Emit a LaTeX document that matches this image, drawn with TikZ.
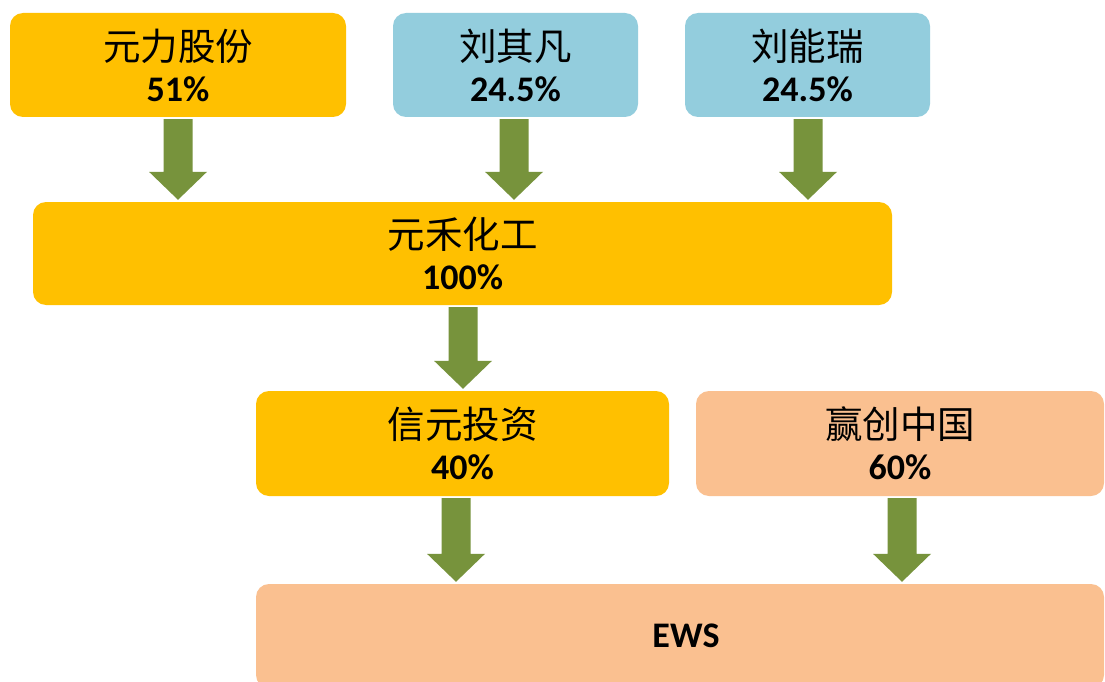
\documentclass[tikz,border=0pt]{standalone}
\usepackage{fontspec}
\setmainfont{Carlito}
\newfontfamily\cjk{Noto Sans CJK SC}
\usetikzlibrary{calc}
\definecolor{cyellow}{HTML}{FFC000}
\definecolor{cblue}{HTML}{93CDDD}
\definecolor{cpeach}{HTML}{FAC090}
\definecolor{cgreen}{HTML}{77933C}
\tikzset{
  box/.style={rounded corners=13pt, inner sep=0pt, align=center,
    font=\fontsize{36}{44}\selectfont},
  ybox/.style={box, fill=cyellow},
  bbox/.style={box, fill=cblue},
  pbox/.style={box, fill=cpeach},
  arr/.style={fill=cgreen},
}
\newcommand{\twolines}[2]{{\cjk\fontsize{37.5}{44}\selectfont #1}\\[-3pt]\textbf{#2}}
\newcommand{\blockarr}[3]{%
  \fill[arr] let \p1=(#1.south), \p2=(#2.north) in
    (\x1+#3pt-14.5pt,\y1-2pt) -- (\x1+#3pt+14.5pt,\y1-2pt) --
    (\x1+#3pt+14.5pt,\y2+30pt) -- (\x1+#3pt+29pt,\y2+30pt) --
    (\x1+#3pt,\y2+2pt) -- (\x1+#3pt-29pt,\y2+30pt) --
    (\x1+#3pt-14.5pt,\y2+30pt) -- cycle;}
\begin{document}
\begin{tikzpicture}[x=1pt,y=-1pt]
\useasboundingbox (0,0) rectangle (1105,682);
\clip (0,0) rectangle (1105,682);
\fill[white] (0,0) rectangle (1105,682);
\node[ybox, minimum width=336pt, minimum height=104pt] (yl) at (178,65) {\twolines{元力股份}{51\%}};
\node[bbox, minimum width=245pt, minimum height=104pt] (lqf) at (515.5,65) {\twolines{刘其凡}{24.5\%}};
\node[bbox, minimum width=245pt, minimum height=104pt] (lnr) at (807.5,65) {\twolines{刘能瑞}{24.5\%}};
\node[ybox, minimum width=859pt, minimum height=103pt] (yh) at (462.5,253.5) {\twolines{元禾化工}{100\%}};
\node[ybox, minimum width=413pt, minimum height=105pt] (xy) at (462.5,443.5) {\twolines{信元投资}{40\%}};
\node[pbox, minimum width=408pt, minimum height=105pt] (yc) at (900,443.5) {\twolines{赢创中国}{60\%}};
\node[pbox, minimum width=848pt, minimum height=104pt] (ews) at (680,636) {};
\node[font=\fontsize{36}{40}\selectfont\bfseries] (ewst) at (686,636) {EWS};
\blockarr{yl}{yh}{0}
\blockarr{lqf}{yh}{-1.5}
\blockarr{lnr}{yh}{0.5}
\blockarr{yh}{xy}{0.5}
\blockarr{xy}{ews}{-6.5}
\blockarr{yc}{ews}{2}
\end{tikzpicture}
\end{document}
